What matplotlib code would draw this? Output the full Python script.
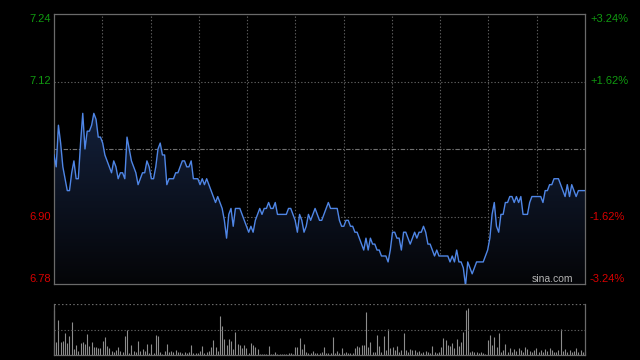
import numpy as np
import matplotlib
matplotlib.use('Agg')
import matplotlib.pyplot as plt
import matplotlib.transforms as mtransforms
from matplotlib.colors import LinearSegmentedColormap
from matplotlib.patches import PathPatch

prev_close = 7.01

price = [
    7.00, 6.98, 7.05, 7.02, 6.98, 6.96, 6.94, 6.94, 6.97, 6.99,
    6.96, 6.96, 7.02, 7.07, 7.01, 7.04, 7.04, 7.05, 7.07, 7.06,
    7.03, 7.03, 7.02, 7.00, 6.99, 6.98, 6.97, 6.99, 6.98, 6.96,
    6.97, 6.97, 6.96, 7.03, 7.01, 6.99, 6.98, 6.97, 6.95, 6.96,
    6.97, 6.97, 6.99, 6.98, 6.96, 6.96, 6.98, 7.01, 7.02, 7.00,
    7.00, 6.95, 6.96, 6.96, 6.96, 6.97, 6.97, 6.98, 6.99, 6.99,
    6.98, 6.98, 6.99, 6.96, 6.96, 6.96, 6.95, 6.96, 6.95, 6.96,
    6.95, 6.94, 6.93, 6.92, 6.93, 6.92, 6.91, 6.89, 6.86, 6.90,
    6.91, 6.88, 6.91, 6.91, 6.91, 6.90, 6.89, 6.88, 6.87, 6.88,
    6.87, 6.89, 6.90, 6.91, 6.90, 6.91, 6.91, 6.92, 6.91, 6.91,
    6.92, 6.90, 6.90, 6.90, 6.90, 6.90, 6.91, 6.91, 6.90, 6.89,
    6.87, 6.90, 6.89, 6.87, 6.88, 6.90, 6.89, 6.90, 6.91, 6.90,
    6.89, 6.89, 6.90, 6.91, 6.92, 6.91, 6.91, 6.91, 6.91, 6.89,
    6.88, 6.88, 6.89, 6.89, 6.88, 6.88, 6.87, 6.87, 6.86, 6.85,
    6.84, 6.86, 6.84, 6.86, 6.85, 6.85, 6.84, 6.84, 6.83, 6.83,
    6.83, 6.82, 6.84, 6.87, 6.87, 6.86, 6.86, 6.84, 6.87, 6.87,
    6.86, 6.85, 6.86, 6.87, 6.86, 6.87, 6.87, 6.88, 6.87, 6.85,
    6.85, 6.84, 6.83, 6.84, 6.83, 6.83, 6.83, 6.83, 6.83, 6.82,
    6.83, 6.82, 6.84, 6.82, 6.82, 6.81, 6.78, 6.82, 6.81, 6.80,
    6.81, 6.82, 6.82, 6.82, 6.82, 6.83, 6.84, 6.86, 6.90, 6.92,
    6.88, 6.87, 6.90, 6.90, 6.92, 6.92, 6.93, 6.93, 6.92, 6.93,
    6.92, 6.93, 6.90, 6.90, 6.90, 6.92, 6.93, 6.93, 6.93, 6.93,
    6.93, 6.92, 6.94, 6.94, 6.95, 6.95, 6.96, 6.96, 6.96, 6.95,
    6.94, 6.93, 6.95, 6.93, 6.95, 6.94, 6.93, 6.94, 6.94, 6.94,
    6.94,
]

volume = [
    135, 38, 105, 38, 42, 67, 35, 57, 97, 17,
    30, 13, 35, 40, 33, 63, 28, 38, 25, 25,
    20, 22, 43, 53, 27, 20, 12, 9, 15, 23,
    13, 10, 57, 75, 7, 30, 13, 10, 43, 13,
    18, 12, 33, 7, 33, 7, 60, 57, 10, 3,
    13, 33, 10, 13, 10, 15, 10, 8, 7, 8,
    5, 10, 30, 7, 7, 5, 13, 27, 5, 10,
    13, 23, 45, 25, 13, 117, 87, 47, 30, 47,
    42, 17, 68, 32, 30, 20, 30, 20, 7, 35,
    30, 25, 17, 2, 3, 2, 2, 27, 2, 2,
    10, 3, 2, 2, 3, 2, 5, 5, 2, 23,
    25, 50, 17, 33, 10, 7, 5, 13, 5, 7,
    5, 10, 25, 7, 5, 5, 55, 5, 12, 5,
    20, 7, 9, 5, 5, 7, 20, 27, 23, 30,
    30, 129, 25, 40, 10, 9, 60, 27, 10, 57,
    15, 77, 20, 23, 15, 27, 10, 15, 67, 15,
    8, 17, 15, 15, 10, 13, 5, 8, 12, 10,
    5, 27, 10, 7, 10, 23, 50, 45, 30, 27,
    35, 20, 47, 27, 40, 70, 133, 140, 10, 13,
    10, 10, 7, 10, 5, 3, 45, 60, 30, 55,
    23, 65, 10, 15, 33, 10, 20, 10, 17, 12,
    20, 15, 10, 25, 18, 12, 8, 15, 22, 10,
    14, 9, 18, 12, 20, 15, 10, 8, 14, 77,
    12, 18, 10, 15, 8, 12, 20, 10, 14, 8,
    12,
]

pct_levels = [3.24, 1.62, -1.62, -3.24]
left_labels = ['7.24', '7.12', '6.90', '6.78']
right_labels = ['+3.24%', '+1.62%', '-1.62%', '-3.24%']
n_vgrid = 11

plt.rcParams['font.family'] = ['Liberation Sans', 'DejaVu Sans']

W, H = 640, 360
fig = plt.figure(figsize=(6.4, 3.6), dpi=100, facecolor='black')

# ---------- price panel ----------
ax = fig.add_axes([54 / W, 1 - 284 / H, 531 / W, 270 / H])
ax.set_facecolor('black')
minutes = np.arange(len(price))
xmax = len(price) - 1
ytop = prev_close * (1 + pct_levels[0] / 100)
ybot = prev_close * (1 + pct_levels[-1] / 100)

grid_col = '#5e5e5e'
for p in pct_levels[1:3]:
    ax.axhline(prev_close * (1 + p / 100), color=grid_col, lw=0.8,
               dashes=(1.2, 1.8), zorder=0.5)
ax.axhline(prev_close, color='#707070', lw=0.8, dashes=(4, 1.5, 1.2, 1.5), zorder=0.5)
for xv in np.linspace(0, xmax, n_vgrid + 1)[1:-1]:
    ax.axvline(xv, color=grid_col, lw=0.8, dashes=(1.2, 1.8), zorder=0.5)

# gradient fill under line
poly = ax.fill_between(minutes, price, ybot - 0.01, facecolor='none', edgecolor='none')
patch = PathPatch(poly.get_paths()[0], transform=ax.transData,
                  facecolor='none', edgecolor='none')
ax.add_patch(patch)
cmap = LinearSegmentedColormap.from_list('g', ['#040406', '#13203a'])
grad = np.linspace(1, 0, 256).reshape(-1, 1)
im = ax.imshow(grad, extent=[0, xmax, ybot - 0.01, max(price)], origin='upper',
               aspect='auto', cmap=cmap, zorder=1, interpolation='bilinear')
im.set_clip_path(patch)

ax.plot(minutes, price, color='#4f86e6', lw=1.0, zorder=3)

ax.set_xlim(0, xmax)
ax.set_ylim(ybot, ytop)
ax.set_xticks([])
ax.set_yticks([])
for s in ax.spines.values():
    s.set_color('#6a6a6a')
    s.set_linewidth(0.9)

trans = mtransforms.blended_transform_factory(ax.transAxes, ax.transData)
green, red = '#109a10', '#d80000'
for i, (p, ll, rl) in enumerate(zip(pct_levels, left_labels, right_labels)):
    yv = prev_close * (1 + p / 100)
    va = 'top' if i == 0 else ('bottom' if i == len(pct_levels) - 1 else 'center')
    col = green if p > 0 else red
    ax.text(-3 / 531, yv, ll, transform=trans, ha='right', va=va, color=col, fontsize=8)
    ax.text(1 + 5 / 531, yv, rl, transform=trans, ha='left', va=va, color=col, fontsize=8)

ax.text((573 - 54) / 531, 0.008, 'sina.com', transform=ax.transAxes, ha='right',
        va='baseline', color='#b4b4b4', fontsize=7.5, zorder=4)

# ---------- volume panel ----------
axv = fig.add_axes([54 / W, 1 - 355 / H, 531 / W, 51 / H])
axv.set_facecolor('black')
vtop = 152
axv.vlines(minutes, 0, volume, color='#8c8c8c', lw=0.8, clip_on=False)
axv.axhline(vtop / 2, color=grid_col, lw=0.8, dashes=(1.2, 1.8))
axv.axhline(vtop, color='#6a6a6a', lw=0.9, dashes=(1.2, 1.8))
axv.set_xlim(0, xmax)
axv.set_ylim(0, vtop)
axv.set_xticks([])
axv.set_yticks([])
axv.spines['top'].set_visible(False)
for k in ['left', 'right', 'bottom']:
    axv.spines[k].set_color('#6a6a6a')
    axv.spines[k].set_linewidth(0.9)

fig.savefig('out.png', dpi=100, facecolor='black')
